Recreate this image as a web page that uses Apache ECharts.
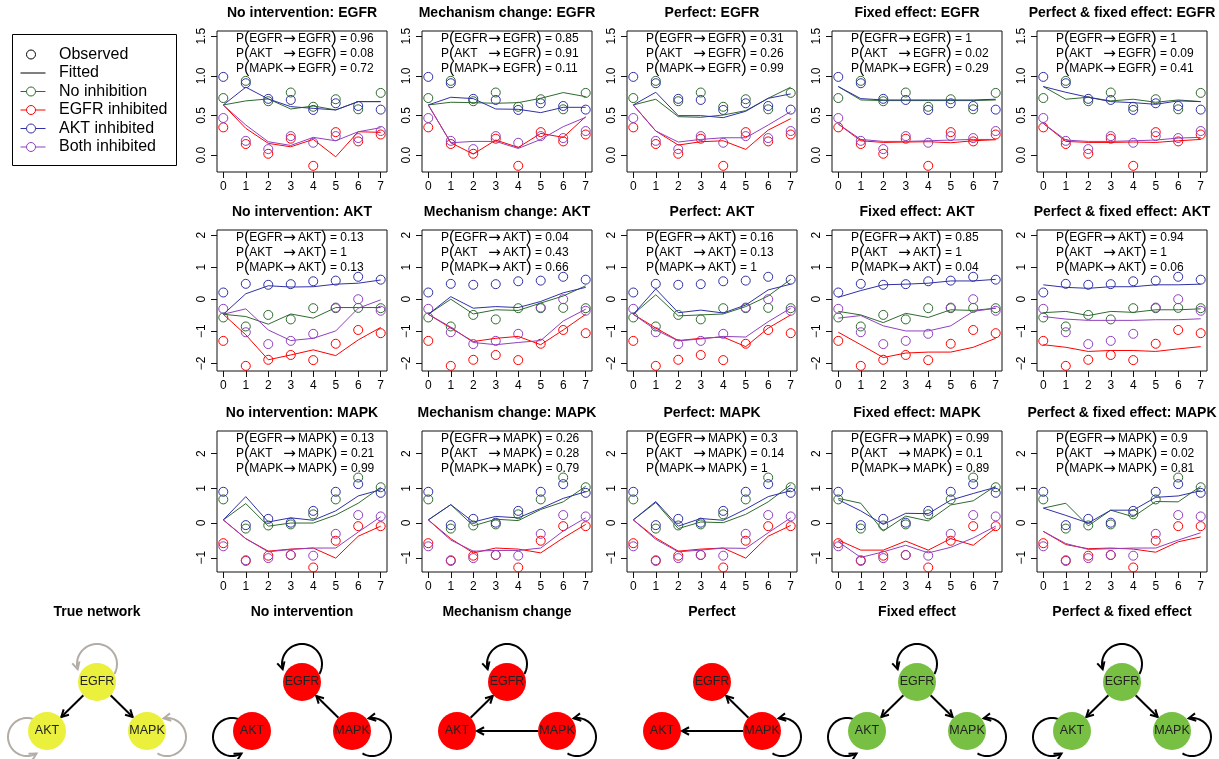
<!DOCTYPE html>
<html><head><meta charset="utf-8">
<script src="https://cdn.jsdelivr.net/npm/echarts@6/dist/echarts.min.js"></script>
<style>html,body{margin:0;padding:0;background:#fff}#c{width:1219px;height:759px}</style>
</head><body><div id="c"></div><script>
// ---------------- data ----------------
const times = [0, 1, 2, 3, 4, 5, 6, 7];
const proteins = ['EGFR', 'AKT', 'MAPK'];
const models = ['No intervention', 'Mechanism change', 'Perfect', 'Fixed effect', 'Perfect & fixed effect'];
const conditions = ['No inhibition', 'EGFR inhibited', 'AKT inhibited', 'Both inhibited'];
const condColors = ['#2E6B2E', '#FF0000', '#3030A8', '#9040C0'];

// observed: [no inhibition, EGFR inh, AKT inh, both inh]
const obsEGFR = [
  [0.72, 0.937, 0.68, 0.79, 0.61, 0.705, 0.578, 0.785],
  [0.35, 0.14, 0.017, 0.207, -0.135, 0.29, 0.173, 0.26],
  [0.987, 0.907, 0.71, 0.696, 0.57, 0.654, 0.62, 0.574],
  [0.468, 0.18, 0.076, 0.24, 0.156, 0.24, 0.215, 0.304]];
const obsAKT = [
  [-0.57, -0.85, -0.49, -0.63, -0.28, -0.28, -0.27, -0.28],
  [-1.30, -2.08, -1.89, -1.74, -1.90, -1.39, -0.96, -1.06],
  [0.21, 0.48, 0.45, 0.47, 0.56, 0.58, 0.70, 0.61],
  [-0.30, -1.03, -1.40, -1.30, -1.08, -0.26, 0.0, -0.36]];
const obsMAPK = [
  [0.68, -0.16, -0.07, -0.04, 0.25, 0.68, 1.31, 1.03],
  [-0.58, -1.09, -0.94, -0.92, -1.28, -0.51, -0.09, -0.09],
  [0.90, -0.06, 0.12, 0.01, 0.35, 0.90, 1.12, 0.87],
  [-0.67, -1.07, -1.01, -0.92, -0.94, -0.31, 0.23, 0.19]];

// fitted EGFR
const fitEGFR_noInt = [
  [0.633, 0.684, 0.709, 0.582, 0.62, 0.57, 0.675, 0.675],
  [0.633, 0.338, 0.148, 0.105, 0.198, -0.021, 0.295, 0.287],
  [0.633, 0.857, 0.709, 0.612, 0.59, 0.57, 0.675, 0.675],
  [0.633, 0.38, 0.169, 0.122, 0.224, 0.181, 0.295, 0.346]];
const fitEGFR_mech = [
  [0.633, 0.667, 0.662, 0.654, 0.662, 0.717, 0.789, 0.738],
  [0.633, 0.156, 0.013, 0.19, 0.097, 0.274, 0.224, 0.485],
  [0.633, 0.73, 0.713, 0.582, 0.578, 0.536, 0.603, 0.603],
  [0.633, 0.156, 0.173, 0.173, 0.084, 0.198, 0.359, 0.477]];
const fitEGFR_perf = [
  [0.633, 0.705, 0.485, 0.477, 0.506, 0.561, 0.717, 0.857],
  [0.633, 0.304, 0.127, 0.169, 0.181, 0.072, 0.316, 0.46],
  [0.633, 0.793, 0.498, 0.498, 0.473, 0.553, 0.717, 0.772],
  [0.633, 0.304, 0.165, 0.198, 0.219, 0.219, 0.38, 0.549]];
const fitEGFR_fixed = [
  [0.865, 0.696, 0.688, 0.688, 0.688, 0.688, 0.688, 0.696],
  [0.392, 0.181, 0.16, 0.165, 0.169, 0.156, 0.181, 0.194],
  [0.865, 0.713, 0.696, 0.696, 0.696, 0.696, 0.696, 0.705],
  [0.392, 0.198, 0.173, 0.173, 0.181, 0.19, 0.198, 0.198]];
const fitEGFR_perfFixed = [
  [0.865, 0.705, 0.73, 0.684, 0.705, 0.667, 0.696, 0.675],
  [0.4, 0.173, 0.16, 0.16, 0.165, 0.16, 0.181, 0.198],
  [0.865, 0.793, 0.73, 0.675, 0.662, 0.641, 0.684, 0.675],
  [0.4, 0.19, 0.173, 0.173, 0.181, 0.19, 0.215, 0.224]];

// fitted AKT
const fitAKT_noInt = [
  [-0.47, -0.54, -0.78, -0.46, -0.59, -0.26, -0.26, -0.26],
  [-0.47, -1.11, -1.89, -1.74, -1.58, -1.76, -1.27, -0.88],
  [-0.47, 0.17, 0.42, 0.38, 0.39, 0.47, 0.50, 0.60],
  [-0.47, -0.30, -0.96, -1.29, -1.22, -0.99, -0.28, -0.02]];
const fitAKT_mech = [
  [-0.47, 0.0, -0.46, -0.33, -0.35, -0.12, 0.10, 0.42],
  [-0.47, -0.90, -1.32, -1.22, -1.16, -1.42, -0.96, -0.47],
  [-0.47, 0.08, -0.28, -0.23, -0.26, -0.07, 0.20, 0.37],
  [-0.47, -0.87, -1.35, -1.42, -1.35, -1.29, -0.68, -0.31]];
const fitAKT_perf = [
  [-0.47, 0.14, -0.52, -0.49, -0.46, -0.23, 0.10, 0.62],
  [-0.47, -0.90, -1.29, -1.22, -1.18, -1.48, -0.90, -0.49],
  [-0.47, 0.32, -0.42, -0.34, -0.43, -0.18, 0.29, 0.47],
  [-0.47, -0.96, -1.30, -1.24, -1.16, -1.18, -0.70, -0.28]];
const fitAKT_fixed = [
  [-0.38, -0.49, -0.73, -0.44, -0.57, -0.33, -0.35, -0.28],
  [-1.03, -1.42, -1.82, -1.68, -1.65, -1.65, -1.50, -1.22],
  [0.06, 0.27, 0.45, 0.47, 0.50, 0.57, 0.57, 0.62],
  [-0.59, -0.51, -0.83, -0.99, -0.99, -0.83, -0.38, -0.28]];
const fitAKT_perfFixed = [
  [-0.42, -0.38, -0.51, -0.38, -0.41, -0.33, -0.33, -0.30],
  [-1.42, -1.50, -1.63, -1.60, -1.60, -1.63, -1.55, -1.48],
  [0.45, 0.37, 0.34, 0.39, 0.39, 0.45, 0.45, 0.47],
  [-0.54, -0.62, -0.66, -0.66, -0.66, -0.64, -0.64, -0.61]];

// fitted MAPK
const fitMAPK_noInt = [
  [0.09, 0.56, -0.09, 0.0, 0.0, 0.23, 0.57, 1.03],
  [0.09, -0.45, -0.81, -0.75, -0.72, -1.01, -0.38, -0.09],
  [0.09, 0.76, 0.03, 0.15, 0.08, 0.35, 0.78, 0.96],
  [0.09, -0.45, -0.83, -0.76, -0.72, -0.72, -0.26, 0.18]];
const fitMAPK_mech = [
  [0.09, 0.53, -0.08, 0.11, 0.07, 0.39, 0.61, 1.06],
  [0.09, -0.45, -0.86, -0.72, -0.75, -0.86, -0.43, -0.04],
  [0.09, 0.53, 0.03, 0.19, 0.15, 0.42, 0.71, 0.90],
  [0.09, -0.49, -0.81, -0.79, -0.79, -0.72, -0.23, 0.15]];
const fitMAPK_perf = [
  [0.09, 0.59, -0.16, 0.03, 0.01, 0.25, 0.61, 1.10],
  [0.09, -0.43, -0.81, -0.75, -0.72, -1.01, -0.38, -0.07],
  [0.09, 0.62, -0.09, 0.13, 0.08, 0.40, 0.76, 0.93],
  [0.09, -0.47, -0.83, -0.78, -0.72, -0.73, -0.28, 0.15]];
const fitMAPK_fixed = [
  [0.71, 0.57, -0.23, 0.20, 0.06, 0.52, 0.64, 1.07],
  [-0.49, -0.78, -0.78, -0.52, -0.78, -0.45, -0.64, -0.14],
  [0.67, 0.35, -0.04, 0.28, 0.27, 0.66, 0.85, 1.03],
  [-0.54, -0.99, -0.83, -0.64, -0.86, -0.70, -0.43, -0.09]];
const fitMAPK_perfFixed = [
  [0.43, 0.57, -0.08, 0.37, 0.18, 0.62, 0.61, 1.06],
  [-0.24, -0.62, -0.74, -0.72, -0.75, -0.84, -0.54, -0.40],
  [0.43, 0.22, 0.0, 0.37, 0.37, 0.74, 0.78, 0.93],
  [-0.24, -0.59, -0.76, -0.74, -0.72, -0.72, -0.49, -0.28]];

// posterior edge probabilities: per model [from EGFR, from AKT, from MAPK]
const probEGFR = [[0.96, 0.08, 0.72], [0.85, 0.91, 0.11], [0.31, 0.26, 0.99], [1, 0.02, 0.29], [1, 0.09, 0.41]];
const probAKT  = [[0.13, 1, 0.13], [0.04, 0.43, 0.66], [0.16, 0.13, 1], [0.85, 1, 0.04], [0.94, 1, 0.06]];
const probMAPK = [[0.13, 0.21, 0.99], [0.26, 0.28, 0.79], [0.3, 0.14, 1], [0.99, 0.1, 0.89], [0.9, 0.02, 0.81]];

// axis ticks per row
const yTicksEGFR = [0, 0.5, 1, 1.5];
const yTicksAKT = [-2, -1, 0, 1, 2];
const yTicksMAPK = [-1, 0, 1, 2];

// networks
const netTitles = ['True network', 'No intervention', 'Mechanism change', 'Perfect', 'Fixed effect', 'Perfect & fixed effect'];
const netEdges = [
  [['EGFR', 'AKT'], ['EGFR', 'MAPK']],
  [['MAPK', 'EGFR']],
  [['AKT', 'EGFR'], ['MAPK', 'AKT']],
  [['MAPK', 'EGFR'], ['MAPK', 'AKT']],
  [['EGFR', 'AKT'], ['EGFR', 'MAPK']],
  [['EGFR', 'AKT'], ['EGFR', 'MAPK']]];
const netLoops = [['EGFR', 'AKT', 'MAPK'], ['EGFR', 'AKT', 'MAPK'], ['EGFR', 'MAPK'], ['MAPK'], ['EGFR', 'AKT', 'MAPK'], ['EGFR', 'AKT', 'MAPK']];
const netNodeColors = ['#EAF03C', '#FF0000', '#FF0000', '#FF0000', '#78C043', '#78C043'];
const netLoopColors = ['#B3ADA6', '#000', '#000', '#000', '#000', '#000'];

// ---------------- layout ----------------
const FONT = "'Liberation Sans', Arial, Helvetica, sans-serif";
const BOX_L0 = 217, COL_STEP = 205, BOX_W = 170, BOX_H = 141;
const ROW_TOPS = [31, 230, 431];
const X_RANGE = [-0.28, 7.28];
const Y_RANGES = [[-0.213, 1.566], [-2.24, 2.16], [-1.41, 2.65]];
const obsRows = [obsEGFR, obsAKT, obsMAPK];
const fitRows = [
  [fitEGFR_noInt, fitEGFR_mech, fitEGFR_perf, fitEGFR_fixed, fitEGFR_perfFixed],
  [fitAKT_noInt, fitAKT_mech, fitAKT_perf, fitAKT_fixed, fitAKT_perfFixed],
  [fitMAPK_noInt, fitMAPK_mech, fitMAPK_perf, fitMAPK_fixed, fitMAPK_perfFixed]];
const probRows = [probEGFR, probAKT, probMAPK];
const yTickRows = [yTicksEGFR, yTicksAKT, yTicksMAPK];

const grids = [], xAxes = [], yAxes = [], series = [], graphics = [];

function fmtY(row, v) {
  if (row === 0) return v.toFixed(1);
  return String(v).replace('-', '\u2212');
}

const annRich = {
  t: { fontSize: 12, fontFamily: FONT, color: '#000' },
  p: { fontSize: 16, fontFamily: FONT, color: '#000' },
  s: { fontSize: 12, fontFamily: FONT, color: '#000', width: 32 },
  a: { fontSize: 15, fontFamily: "'DejaVu Sans', sans-serif", color: '#000', padding: [0, 2, 0, 2] }
};

for (let r = 0; r < 3; r++) {
  for (let c = 0; c < 5; c++) {
    const gi = r * 5 + c;
    const left = BOX_L0 + COL_STEP * c, top = ROW_TOPS[r];
    grids.push({ left, top, width: BOX_W, height: BOX_H, show: true, borderColor: '#111', borderWidth: 1, backgroundColor: 'transparent' });
    xAxes.push({
      gridIndex: gi, type: 'value', min: X_RANGE[0], max: X_RANGE[1],
      axisLine: { show: false, onZero: false },
      axisTick: { show: true, customValues: times, length: 6, lineStyle: { color: '#111', width: 1 } },
      axisLabel: { customValues: times, margin: 9, fontSize: 12, color: '#000', fontFamily: FONT },
      splitLine: { show: false }
    });
    const yt = yTickRows[r];
    yAxes.push({
      gridIndex: gi, type: 'value', min: Y_RANGES[r][0], max: Y_RANGES[r][1],
      axisLine: { show: false, onZero: false },
      axisTick: { show: true, customValues: yt, length: 6, lineStyle: { color: '#111', width: 1 } },
      axisLabel: { customValues: yt, rotate: 90, margin: 9, fontSize: 12, color: '#000', fontFamily: FONT,
        formatter: (v) => fmtY(r, v) },
      splitLine: { show: false }
    });
    // fitted lines
    const fit = fitRows[r][c];
    for (let k = 0; k < 4; k++) {
      series.push({
        type: 'line', xAxisIndex: gi, yAxisIndex: gi, name: conditions[k],
        data: times.map((t, i) => [t, fit[k][i]]),
        showSymbol: false, symbol: 'none', silent: true,
        lineStyle: { color: condColors[k], width: 1 }, z: 3
      });
    }
    // observed points
    const obs = obsRows[r];
    for (let k = 0; k < 4; k++) {
      series.push({
        type: 'scatter', xAxisIndex: gi, yAxisIndex: gi, name: conditions[k],
        data: times.map((t, i) => [t, obs[k][i]]),
        symbol: 'circle', symbolSize: 9, silent: true,
        itemStyle: { color: 'rgba(0,0,0,0)', borderColor: condColors[k], borderWidth: 1, opacity: 1 }, z: 2
      });
    }
    // panel title
    graphics.push({ type: 'text', x: left + BOX_W / 2, y: top - 18, silent: true,
      style: { text: models[c] + ': ' + proteins[r], fill: '#000', font: 'bold 14px ' + FONT, align: 'center', verticalAlign: 'middle' } });
    // annotation
    const probs = probRows[r][c];
    for (let s = 0; s < 3; s++) {
      graphics.push({ type: 'text', x: left + 19, y: top + 8 + 15 * s, silent: true,
        style: {
          text: '{t|P}{p|(}{s|' + proteins[s] + '}{a|\u2192}{t|' + proteins[r] + '}{p|)}{t| = ' + probs[s] + '}',
          align: 'left', verticalAlign: 'middle',
          rich: annRich
        } });
    }
  }
}

// ---------------- legend ----------------
const LEG = { x: 12.5, y: 34.5, w: 164, h: 131 };
graphics.push({ type: 'rect', shape: { x: LEG.x, y: LEG.y, width: LEG.w, height: LEG.h }, silent: true,
  style: { fill: 'none', stroke: '#000', lineWidth: 1 } });
const legItems = [
  { label: 'Observed', color: '#000', line: false, pt: true },
  { label: 'Fitted', color: '#000', line: true, pt: false }
].concat(conditions.map((cn, k) => ({ label: cn, color: condColors[k], line: true, pt: true })));
legItems.forEach((it, i) => {
  const y = 54.5 + 18.5 * i;
  if (it.line) graphics.push({ type: 'line', shape: { x1: 20.5, y1: y, x2: 45.5, y2: y }, silent: true, style: { stroke: it.color, lineWidth: 1 } });
  if (it.pt) graphics.push({ type: 'circle', shape: { cx: 31, cy: y, r: 4.5 }, silent: true, style: { fill: '#fff', stroke: it.color, lineWidth: 1 } });
  graphics.push({ type: 'text', x: 59, y: y, silent: true, style: { text: it.label, fill: '#000', font: '16px ' + FONT, align: 'left', verticalAlign: 'middle' } });
});

// ---------------- networks ----------------
const NET_CX = [97, 302, 507, 712, 917, 1122];
const NODE_Y = 682, NODE_R = 19;
const nodeOffsets = { EGFR: [0, 0], AKT: [-50, 49], MAPK: [50, 49] };
// loop: centre offset from node, radius, start/end angle (deg, counter-clockwise on screen)
const loopGeom = { EGFR: { o: [0, -18], r: 20, a0: -30, a1: 195 }, AKT: { o: [-20, 6], r: 19, a0: 40, a1: 300 }, MAPK: { o: [20, 6], r: 19, a0: 240, a1: 460 } };

function arrowHead(tip, dir, color) {
  const len = 8, ang = 28 * Math.PI / 180;
  const bx = -dir[0], by = -dir[1];
  const p1 = [tip[0] + len * (bx * Math.cos(ang) - by * Math.sin(ang)), tip[1] + len * (bx * Math.sin(ang) + by * Math.cos(ang))];
  const p2 = [tip[0] + len * (bx * Math.cos(-ang) - by * Math.sin(-ang)), tip[1] + len * (bx * Math.sin(-ang) + by * Math.cos(-ang))];
  return { type: 'polyline', silent: true, shape: { points: [p1, tip, p2] }, style: { stroke: color, lineWidth: 2, fill: null, lineJoin: 'miter' }, z: 5 };
}

NET_CX.forEach((cx, n) => {
  graphics.push({ type: 'text', x: cx, y: 612, silent: true, style: { text: netTitles[n], fill: '#000', font: 'bold 14px ' + FONT, align: 'center', verticalAlign: 'middle' } });
  const pos = {};
  Object.keys(nodeOffsets).forEach(k => { pos[k] = [cx + nodeOffsets[k][0], NODE_Y + nodeOffsets[k][1]]; });
  // loops
  netLoops[n].forEach(k => {
    const g = loopGeom[k], c0 = [pos[k][0] + g.o[0], pos[k][1] + g.o[1]];
    const pts = [];
    for (let a = g.a0; a <= g.a1; a += 5) {
      const t = a * Math.PI / 180;
      pts.push([c0[0] + g.r * Math.cos(t), c0[1] - g.r * Math.sin(t)]);
    }
    const te = g.a1 * Math.PI / 180;
    const tip = [c0[0] + g.r * Math.cos(te), c0[1] - g.r * Math.sin(te)];
    pts.push(tip);
    graphics.push({ type: 'polyline', silent: true, shape: { points: pts }, style: { stroke: netLoopColors[n], lineWidth: 2, fill: null }, z: 4 });
    graphics.push(arrowHead(tip, [-Math.sin(te), -Math.cos(te)], netLoopColors[n]));
  });
  // edges
  netEdges[n].forEach(([s, t]) => {
    const a = pos[s], b = pos[t];
    const dx = b[0] - a[0], dy = b[1] - a[1], L = Math.hypot(dx, dy);
    const u = [dx / L, dy / L];
    const p0 = [a[0] + u[0] * NODE_R, a[1] + u[1] * NODE_R];
    const p1 = [b[0] - u[0] * (NODE_R + 1), b[1] - u[1] * (NODE_R + 1)];
    graphics.push({ type: 'line', silent: true, shape: { x1: p0[0], y1: p0[1], x2: p1[0], y2: p1[1] }, style: { stroke: '#000', lineWidth: 2 }, z: 4 });
    graphics.push(arrowHead(p1, u, '#000'));
  });
  // nodes
  Object.keys(pos).forEach(k => {
    graphics.push({ type: 'circle', silent: true, shape: { cx: pos[k][0], cy: pos[k][1], r: NODE_R }, style: { fill: netNodeColors[n], stroke: null }, z: 6 });
    graphics.push({ type: 'text', silent: true, x: pos[k][0], y: pos[k][1], z: 7, style: { text: k, fill: '#222', font: '12.5px ' + FONT, align: 'center', verticalAlign: 'middle' } });
  });
});

const chart = echarts.init(document.getElementById('c'), null, { renderer: 'canvas' });
chart.setOption({
  animation: false,
  backgroundColor: '#fff',
  textStyle: { fontFamily: FONT },
  grid: grids, xAxis: xAxes, yAxis: yAxes, series: series,
  graphic: { elements: graphics }
});
</script></body></html>
